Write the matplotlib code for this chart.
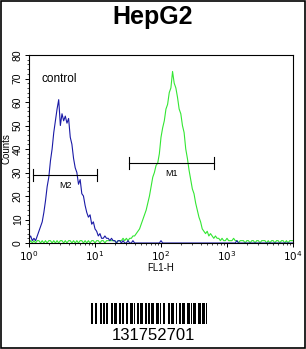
import numpy as np
import matplotlib
matplotlib.use("Agg")
from matplotlib import pyplot as plt
from matplotlib.patches import Rectangle
from matplotlib.ticker import LogLocator, MultipleLocator, FixedLocator

plt.rcParams['font.family'] = ['Liberation Sans', 'DejaVu Sans']

# channel positions, log10 of FL1-H, 0..4 in steps of 0.025
log_fl1 = np.arange(161) * 0.025

control_counts = [
    2, 3, 1, 2, 1, 3, 5, 7, 9, 13, 18, 24, 28, 35, 40, 47, 52, 57, 61, 50,
    55, 52, 54, 51, 53, 45, 42, 36, 32, 30, 25, 27, 21, 20, 16, 13, 11, 12, 8, 9,
    6, 5, 3, 4, 2, 2, 3, 2, 2, 1, 2, 1, 1, 0, 1, 1, 0, 1, 0, 0,
    1, 0, 0, 1, 0, 0, 0, 0, 0, 0, 0, 0, 0, 0, 0, 0, 0, 0, 0, 0,
    1, 0, 0, 0, 0, 0, 0, 0, 0, 0, 0, 0, 0, 0, 0, 0, 0, 0, 0, 0,
    0, 0, 0, 0, 0, 0, 0, 0, 0, 0, 0, 0, 0, 0, 0, 0, 0, 0, 0, 0,
    0, 0, 0, 0, 0, 0, 1, 0, 0, 0, 0, 0, 0, 0, 0, 0, 0, 0, 0, 0,
    0, 0, 0, 0, 0, 0, 0, 0, 0, 0, 0, 0, 0, 0, 0, 0, 0, 0, 0, 0,
    0,
]

sample_counts = [
    0, 1, 0, 1, 0, 1, 1, 0, 1, 0, 1, 0, 1, 1, 0, 1, 0, 1, 0, 1,
    1, 0, 1, 0, 1, 1, 0, 1, 0, 1, 0, 1, 1, 0, 1, 0, 1, 0, 1, 1,
    0, 1, 1, 0, 1, 1, 0, 1, 1, 1, 1, 1, 1, 0, 1, 1, 1, 2, 1, 2,
    1, 2, 2, 3, 3, 4, 5, 6, 8, 10, 12, 14, 17, 20, 24, 28, 30, 33, 34, 38,
    45, 49, 52, 57, 59, 64, 66, 73, 68, 66, 62, 57, 55, 50, 47, 40, 36, 31, 27, 23,
    21, 17, 14, 11, 9, 6, 5, 4, 5, 3, 4, 3, 2, 3, 2, 2, 1, 2, 1, 1,
    2, 1, 1, 1, 2, 1, 1, 0, 1, 1, 1, 0, 1, 1, 0, 1, 1, 0, 1, 1,
    0, 1, 1, 1, 0, 1, 0, 1, 1, 0, 1, 1, 0, 1, 1, 0, 1, 0, 1, 1,
    1,
]

# gates: (label, start, end, height)
gate_names = ["M2", "M1"]
gate_start = [1.15, 33]
gate_end = [10.8, 630]
gate_level = [29, 34]

barcode_bits = (
    "11011001101011001101100101101100110101101100101"
    "10110011010110011011001011011001101011001101101"
)
barcode_text = "131752701"

fig = plt.figure(figsize=(3.06, 3.49), dpi=100)
fig.patches.append(Rectangle((0.002, 0.002), 0.996, 0.995, transform=fig.transFigure,
                             fill=False, edgecolor="black", linewidth=1.2))
fig.text(0.5, 0.952, "HepG2", ha="center", va="center", fontsize=18, fontweight="bold")

ax = fig.add_axes([0.0948, 0.3037, 0.8627, 0.5387])
fl1 = 10 ** log_fl1
ax.plot(fl1, sample_counts, color="#33e633", linewidth=0.8)
ax.plot(fl1, control_counts, color="#1a1aa6", linewidth=0.8)

for name, s, e, h in zip(gate_names, gate_start, gate_end, gate_level):
    ax.plot([s, e], [h, h], color="black", linewidth=0.8)
    ax.plot([s, s], [h - 2.5, h + 2.5], color="black", linewidth=0.8)
    ax.plot([e, e], [h - 2.5, h + 2.5], color="black", linewidth=0.8)
    ax.text(np.sqrt(s * e), h - 2.5, name, ha="center", va="top", fontsize=6.5)

ax.text(1.57, 70, "control", fontsize=8.5, ha="left", va="center")

ax.set_xscale("log")
ax.set_xlim(1, 1e4)
ax.set_ylim(0, 80)
ax.xaxis.set_major_locator(FixedLocator([1, 10, 100, 1000, 10000]))
ax.xaxis.set_minor_locator(LogLocator(base=10, subs=np.arange(2, 10), numticks=20))
ax.set_xticklabels([r"$10^{%d}$" % k for k in range(5)])
ax.yaxis.set_major_locator(MultipleLocator(10))
ax.yaxis.set_minor_locator(MultipleLocator(2))
ax.tick_params(axis="both", which="major", labelsize=7.5, length=3, width=0.7, pad=1.5)
ax.tick_params(axis="both", which="minor", length=1.5, width=0.5)
for lbl in ax.get_yticklabels():
    lbl.set_rotation(90)
    lbl.set_va("center")
ax.set_xlabel("FL1-H", fontsize=7, labelpad=0)
ax.set_ylabel("Counts", fontsize=7, labelpad=1)
for sp in ax.spines.values():
    sp.set_linewidth(0.8)

# barcode
bx = fig.add_axes([91 / 306, 1 - 324 / 349, 115 / 306, 21 / 349])
bits = np.array([int(b) for b in barcode_bits])
bx.imshow(bits[np.newaxis, :], cmap="gray_r", aspect="auto", interpolation="nearest")
bx.axis("off")
fig.text(0.5, 1 - 335 / 349, barcode_text, ha="center", va="center", fontsize=12)

fig.savefig("out.png", dpi=100)
